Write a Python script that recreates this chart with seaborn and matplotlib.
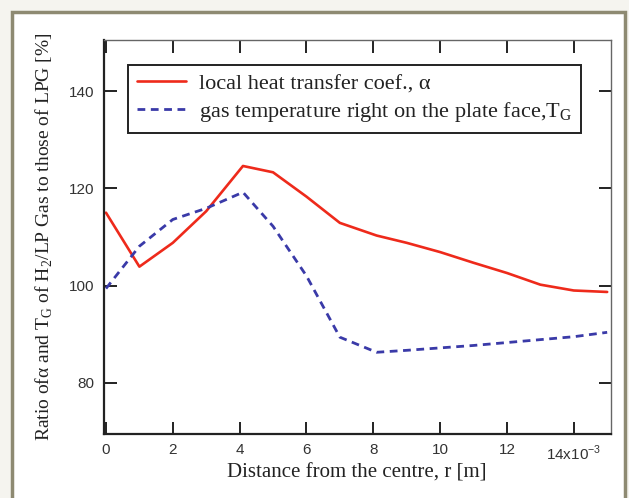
import numpy as np
import pandas as pd
import matplotlib
matplotlib.use("Agg")
import matplotlib.pyplot as plt
from matplotlib.patches import Rectangle
import seaborn as sns

# --- dane ---
r_mm = [0, 1, 2, 3, 4.1, 5, 6, 7, 8.1, 9, 10, 11, 12, 13, 14, 15]
alpha_ratio = [115.0, 103.9, 108.8, 115.3, 124.6, 123.3, 118.3, 112.9,
               110.3, 108.8, 106.9, 104.7, 102.6, 100.2, 99.0, 98.7]
tg_ratio = [99.4, 108.1, 113.6, 115.9, 119.2, 112.2, 102.0, 89.4,
            86.3, 86.7, 87.2, 87.7, 88.3, 88.9, 89.5, 90.4]
x_ticks = [0, 2, 4, 6, 8, 10, 12, 14]
x_ticklabels = ["0", "2", "4", "6", "8", "10", "12",
                r"14x10$^{\mathregular{-3}}$"]
y_ticks = [80, 100, 120, 140]

df = pd.DataFrame({
    "r": np.array(r_mm) * 1e-3,
    "alpha": alpha_ratio,
    "tg": tg_ratio,
})

sns.set_theme(style="white")
plt.rcParams["font.family"] = ["Liberation Sans", "DejaVu Sans"]
plt.rcParams.update({"xtick.bottom": True, "xtick.top": True,
                     "ytick.left": True, "ytick.right": True,
                     "xtick.direction": "in", "ytick.direction": "in"})

SERIF = ["Liberation Serif", "DejaVu Serif"]
RED = "#ee2a1b"
BLUE = "#3a3aa8"

fig = plt.figure(figsize=(6.29, 4.98), dpi=100)
fig.patch.set_facecolor("#f5f4ef")
fig.patches.append(Rectangle((12 / 629, -0.05), 613 / 629, (498 - 12) / 498 + 0.05,
                             transform=fig.transFigure, facecolor="white",
                             edgecolor="#8e8a72", linewidth=2.5, zorder=-10))

ax = fig.add_axes([0.1653, 0.1295, 0.8053, 0.7902])
ax.set_facecolor("white")

sns.lineplot(data=df, x="r", y="alpha", ax=ax, color=RED, linewidth=1.9,
             label=r"local heat transfer coef., α")
sns.lineplot(data=df, x="r", y="tg", ax=ax, color=BLUE, linewidth=2.0,
             dashes=False, linestyle=(0, (2.8, 2.0)),
             label=r"gas temperature right on the plate face,T$_{\mathregular{G}}$")

ax.set_xlim(-0.06e-3, 15.1e-3)
ax.set_ylim(69.6, 150.5)
ax.set_xticks(np.array(x_ticks) * 1e-3)
ax.set_xticklabels(x_ticklabels)
ax.set_yticks(y_ticks)

ax.tick_params(axis="both", which="major", direction="in", length=9, width=1.4,
               color="#222222", labelcolor="#333333", labelsize=11,
               top=True, right=True, bottom=True, left=True, pad=7)
for tick in ax.xaxis.get_major_ticks() + ax.yaxis.get_major_ticks():
    tick.tick1line.set_visible(True)
    tick.tick2line.set_visible(True)
for side, spine in ax.spines.items():
    spine.set_visible(True)
    spine.set_color("#222222" if side in ("left", "bottom") else "#666666")
    spine.set_linewidth(1.6 if side in ("left", "bottom") else 1.0)

ax.set_xlabel("Distance from the centre, r [m]", family=SERIF, fontsize=15,
              color="#222222", labelpad=1)
ax.set_ylabel(r"Ratio ofα and T$_{\mathregular{G}}$ of H$_{\mathregular{2}}$/LP Gas to those of LPG [%]",
              family=SERIF, fontsize=14, color="#222222", labelpad=10)

leg = ax.legend(loc="upper left", bbox_to_anchor=(0.047, 0.937), borderaxespad=0,
                frameon=True, fancybox=False, edgecolor="#222222", framealpha=1,
                handlelength=2.2, borderpad=0.4, labelspacing=0.25,
                handletextpad=0.6, prop={"family": SERIF, "size": 16})
leg.get_frame().set_linewidth(1.4)
for t in leg.get_texts():
    t.set_color("#222222")

fig.savefig("out.png", dpi=100, facecolor=fig.get_facecolor())
